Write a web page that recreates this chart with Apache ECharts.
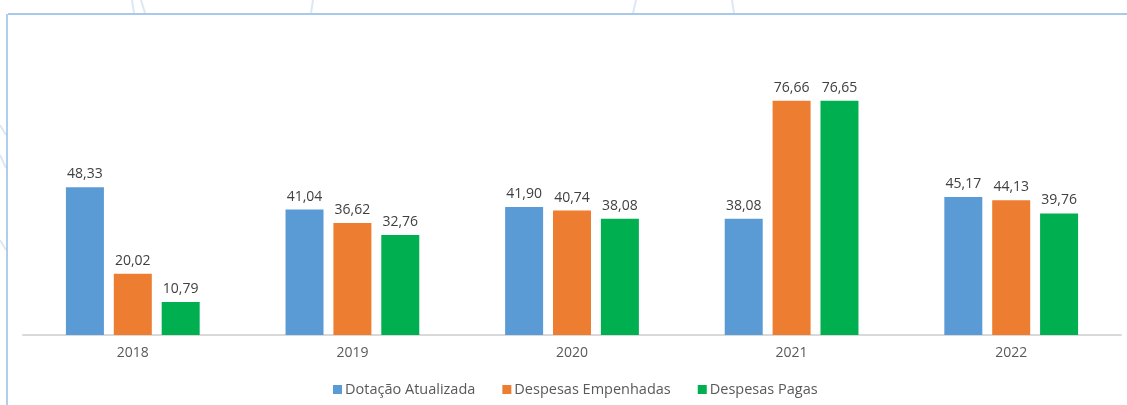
<!DOCTYPE html>
<html>
<head>
<meta charset="utf-8">
<script src="https://cdn.jsdelivr.net/npm/echarts@6/dist/echarts.min.js"></script>
<style>
html,body{margin:0;padding:0;background:#fff;}
#chart{width:1127px;height:405px;}
</style>
</head>
<body>
<div id="chart"></div>
<script>
var categories = ['2018', '2019', '2020', '2021', '2022'];
var dotacaoAtualizada = [48.33, 41.04, 41.90, 38.08, 45.17];
var despesasEmpenhadas = [20.02, 36.62, 40.74, 76.66, 44.13];
var despesasPagas = [10.79, 32.76, 38.08, 76.65, 39.76];
var seriesNames = ['Dotação Atualizada', 'Despesas Empenhadas', 'Despesas Pagas'];
var colors = ['#5B9BD5', '#ED7D31', '#00B050'];

var FONT = '"Open Sans", sans-serif';
function fmt(p) { return p.value.toFixed(2).replace('.', ','); }
function mk(name, data, color) {
  return {
    name: name, type: 'bar', data: data, barWidth: 38, barGap: '26%',
    itemStyle: { color: color },
    label: { show: true, position: 'top', distance: 6, formatter: fmt,
      color: '#404040', fontSize: 14, fontFamily: FONT },
    emphasis: { disabled: true }
  };
}
var chart = echarts.init(document.getElementById('chart'));
var faint = { stroke: '#dde8f4', lineWidth: 2 };
chart.setOption({
  animation: false,
  backgroundColor: '#ffffff',
  color: colors,
  grid: { left: 23, right: 6, top: 60, bottom: 70, containLabel: false },
  xAxis: {
    type: 'category', data: categories,
    axisLine: { lineStyle: { color: '#D9D9D9', width: 2 } },
    axisTick: { show: false },
    axisLabel: { color: '#595959', fontSize: 14, fontFamily: FONT, margin: 11 }
  },
  yAxis: { type: 'value', min: 0, max: 90, show: false, splitLine: { show: false } },
  legend: {
    bottom: 3, left: 328, itemWidth: 9, itemHeight: 9, itemGap: 27,
    icon: 'rect',
    textStyle: { color: '#595959', fontSize: 14.5, fontFamily: FONT, padding: [0, 0, 0, -2] },
    data: seriesNames
  },
  graphic: [
    { type: 'line', shape: { x1: 132, y1: 0, x2: 134, y2: 13 }, style: faint, silent: true },
    { type: 'line', shape: { x1: 141, y1: 0, x2: 145, y2: 13 }, style: faint, silent: true },
    { type: 'line', shape: { x1: 313, y1: 0, x2: 311, y2: 13 }, style: faint, silent: true },
    { type: 'line', shape: { x1: 636, y1: 0, x2: 633, y2: 13 }, style: faint, silent: true },
    { type: 'line', shape: { x1: 732, y1: 0, x2: 734, y2: 13 }, style: faint, silent: true },
    { type: 'line', shape: { x1: 0, y1: 125, x2: 6, y2: 135 }, style: faint, silent: true },
    { type: 'line', shape: { x1: 0, y1: 155, x2: 6, y2: 168 }, style: faint, silent: true },
    { type: 'line', shape: { x1: 0, y1: 240, x2: 6, y2: 250 }, style: faint, silent: true },
    { type: 'line', shape: { x1: 8, y1: 14, x2: 1127, y2: 14 }, style: { stroke: '#A9C9EA', lineWidth: 2 }, silent: true },
    { type: 'line', shape: { x1: 7, y1: 14, x2: 7, y2: 405 }, style: { stroke: '#94BDE8', lineWidth: 1.5 }, silent: true }
  ],
  series: [
    mk(seriesNames[0], dotacaoAtualizada, colors[0]),
    mk(seriesNames[1], despesasEmpenhadas, colors[1]),
    mk(seriesNames[2], despesasPagas, colors[2])
  ]
});
</script>
</body>
</html>
